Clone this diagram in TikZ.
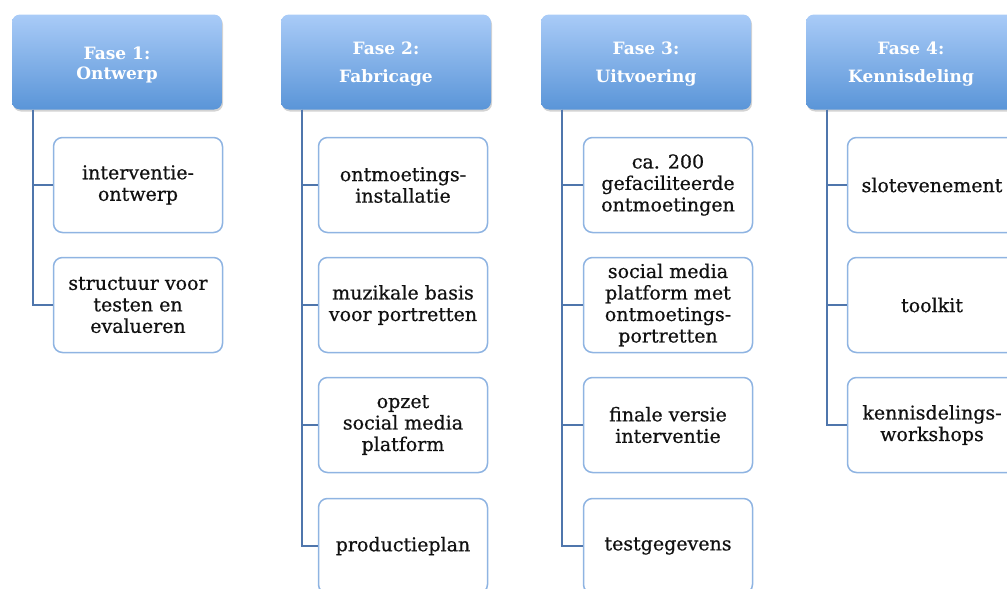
\documentclass[tikz,border=0pt]{standalone}
\usepackage{fontspec}
\setmainfont{DejaVu Serif}
\usetikzlibrary{shadows}
\definecolor{hdtop}{HTML}{A9CBF7}
\definecolor{hdbot}{HTML}{5A95D8}
\definecolor{kidborder}{HTML}{8FB4E2}
\definecolor{spine}{HTML}{4F76AC}
\definecolor{txt}{HTML}{111111}
\tikzset{
  header/.style={rounded corners=8pt, top color=hdtop, bottom color=hdbot, draw=none,
    minimum width=210pt, minimum height=95pt,
    drop shadow={shadow xshift=1pt, shadow yshift=-2pt, opacity=0.35}},
  htext/.style={align=center, text=white, inner sep=0pt,
    font=\fontsize{17}{28}\selectfont\bfseries},
  kid/.style={rounded corners=9pt, draw=kidborder, line width=1.5pt, fill=white,
    minimum width=169pt, minimum height=95pt, align=center, text=txt,
    font=\fontsize{19}{21.5}\selectfont\addfontfeature{FakeBold=0.6}},
  link/.style={draw=spine, line width=1.4pt}
}
\begin{document}
\begin{tikzpicture}[x=1pt,y=-1pt]
\useasboundingbox (0,0) rectangle (1007,589);
\clip (0,0) rectangle (1007,589);
% headers
\node[header] (h1) at (117,62) {};
\node[header] (h2) at (386,62) {};
\node[header] (h3) at (646,62) {};
\node[header] (h4) at (911,62) {};
\node[htext, font=\fontsize{17}{20}\selectfont\bfseries] (t1) at (117,65) {Fase 1:\\Ontwerp};
\node[htext] (t2) at (386,64) {Fase 2:\\Fabricage};
\node[htext] (t3) at (646,64) {Fase 3:\\Uitvoering};
\node[htext] (t4) at (911,64) {Fase 4:\\Kennisdeling};
% children
\node[kid] (a1) at (138,185) {interventie-\\ontwerp};
\node[kid] (a2) at (138,305) {structuur voor\\testen en\\evalueren};
\node[kid] (b1) at (403,185) {ontmoetings-\\installatie};
\node[kid] (b2) at (403,305) {muzikale basis\\voor portretten};
\node[kid] (b3) at (403,425) {opzet\\social media\\platform};
\node[kid] (b4) at (403,546) {productieplan};
\node[kid] (c1) at (668,185) {ca. 200\\gefaciliteerde\\ontmoetingen};
\node[kid] (c2) at (668,305) {social media\\platform met\\ontmoetings-\\portretten};
\node[kid] (c3) at (668,425) {finale versie\\interventie};
\node[kid] (c4) at (668,546) {testgegevens};
\node[kid] (d1) at (932,185) {slotevenement};
\node[kid] (d2) at (932,305) {toolkit};
\node[kid] (d3) at (932,425) {kennisdelings-\\workshops};
% connectors
\foreach \h/\k in {h1/a1, h1/a2, h2/b1, h2/b2, h2/b3, h2/b4,
  h3/c1, h3/c2, h3/c3, h3/c4, h4/d1, h4/d2, h4/d3}{
  \draw[link] ([xshift=-84pt]\h.south) |- (\k.west);
}
\end{tikzpicture}
\end{document}
